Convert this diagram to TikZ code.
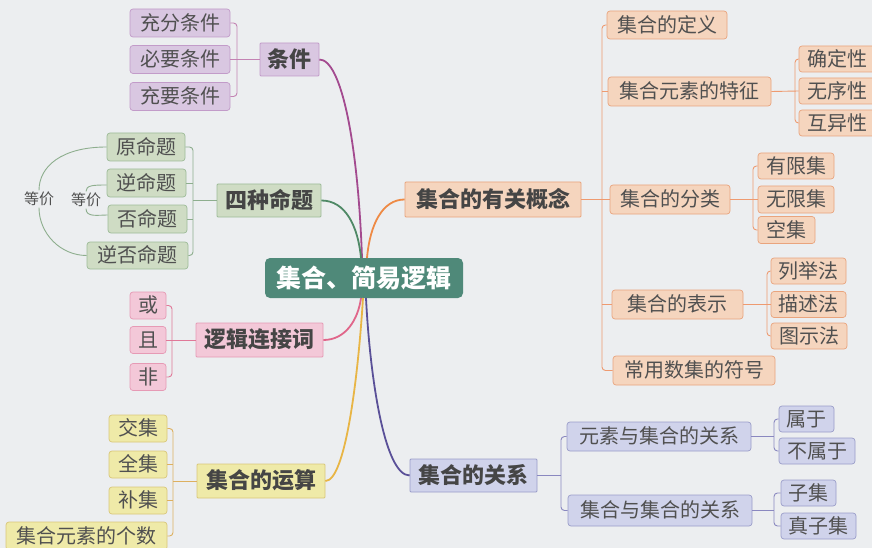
\documentclass[tikz,border=0pt]{standalone}
\usepackage{fontspec}
\setmainfont{Noto Sans CJK SC}
\definecolor{bgc}{HTML}{ECEEF0}
\definecolor{txtc}{HTML}{505050}
\definecolor{toptxt}{HTML}{454545}
\definecolor{Pfill}{HTML}{D9C7E1}\definecolor{Pdraw}{HTML}{C29BC9}\definecolor{Pline}{HTML}{C383B3}\definecolor{Pmain}{HTML}{A34A8F}
\definecolor{Gfill}{HTML}{CFDCC4}\definecolor{Gdraw}{HTML}{9DBB98}\definecolor{Gline}{HTML}{8EAE8E}\definecolor{Gmain}{HTML}{4F8966}
\definecolor{Kfill}{HTML}{F3C8D8}\definecolor{Kdraw}{HTML}{E69AB5}\definecolor{Kline}{HTML}{E07898}\definecolor{Kmain}{HTML}{E0668A}
\definecolor{Yfill}{HTML}{EFEAA8}\definecolor{Ydraw}{HTML}{D9C77A}\definecolor{Yline}{HTML}{DDB060}\definecolor{Ymain}{HTML}{E8B545}
\definecolor{Ofill}{HTML}{F5D5BE}\definecolor{Odraw}{HTML}{E9A47D}\definecolor{Oline}{HTML}{EE9A70}\definecolor{Omain}{HTML}{EE8A45}
\definecolor{Bfill}{HTML}{D0D3EB}\definecolor{Bdraw}{HTML}{9A9DC9}\definecolor{Bline}{HTML}{8A88C0}\definecolor{Bmain}{HTML}{5A5098}
\definecolor{rootc}{HTML}{4F8979}
\begin{document}
\begin{tikzpicture}[x=1pt,y=-1pt,
  base/.style={draw, line width=0.7pt, inner sep=0pt, text=txtc},
  l3/.style={base, rounded corners=3pt, font=\fontsize{20}{20}\selectfont, text height=17pt, text depth=2.6pt},
  l1/.style={base, rounded corners=1pt, line width=0.8pt, font=\fontsize{22}{22}\selectfont\bfseries, text=toptxt, text height=18.8pt, text depth=2.9pt},
  wh/.style 2 args={minimum width=#1pt, minimum height=#2pt},
  gP/.style={fill=Pfill, draw=Pdraw}, gG/.style={fill=Gfill, draw=Gdraw},
  gK/.style={fill=Kfill, draw=Kdraw}, gY/.style={fill=Yfill, draw=Ydraw},
  gO/.style={fill=Ofill, draw=Odraw}, gB/.style={fill=Bfill, draw=Bdraw},
  ln/.style={line width=0.9pt, rounded corners=3.5pt},
  trunk/.style={line width=1.8pt},
  eqtxt/.style={inner sep=1pt, text=txtc, font=\fontsize{15}{15}\selectfont, text height=12.8pt, text depth=2pt}
]
\useasboundingbox (0,0) rectangle (872,548);
\fill[bgc] (0,0) rectangle (872,548);

% root
\node[draw=none, fill=rootc, rounded corners=5pt, wh={198}{40}, inner sep=0pt, text=white,
      font=\fontsize{25}{25}\selectfont\bfseries, text height=21.4pt, text depth=3.3pt] (root) at (364,278) {集合、简易逻辑};
\coordinate (rtA) at (362,258); \coordinate (rtB) at (361,258); \coordinate (rtC) at (367,258);
\coordinate (rbA) at (361,298); \coordinate (rbB) at (363,298); \coordinate (rbC) at (366,298);

% ---- 条件
\node[l1, gP, wh={59}{33}] (tj) at (289.5,59.5) {条件};
\node[l3, gP, wh={100}{28}] (c1) at (180,23) {充分条件};
\node[l3, gP, wh={100}{28}] (c2) at (180,59.5) {必要条件};
\node[l3, gP, wh={100}{28}] (c3) at (180,96.5) {充要条件};
\coordinate (bk1) at (237,59.5);
\draw[ln, Pline] (c1.east) -| (bk1) |- (c3.east);
\draw[ln, Pline] (c2.east) -- (tj.west);

% ---- 四种命题
\node[l1, gG, wh={104}{33}] (sz) at (269,200.5) {四种命题};
\node[l3, gG, wh={78}{28}] (yuan) at (146,147) {原命题};
\node[l3, gG, wh={79}{28}] (ni) at (146.5,183) {逆命题};
\node[l3, gG, wh={79}{28}] (fou) at (147.5,219) {否命题};
\node[l3, gG, wh={101}{27}] (nf) at (137.5,255.5) {逆否命题};
\coordinate (bk2) at (193,200.5);
\draw[ln, Gline] (yuan.east) -| (bk2) |- (nf.east);
\draw[ln, Gline] (ni.east) -- (ni.east -| bk2);
\draw[ln, Gline] (fou.east) -- (fou.east -| bk2);
\draw[ln, Gline] (bk2) -- (sz.west);
% equivalence arcs
\node[eqtxt] (eqo) at (39,199) {等价};
\node[eqtxt] (eqi) at (86,200) {等价};
\draw[line width=0.9pt, Gline] (yuan.west) .. controls +(-45,0) and +(0,-24) .. (eqo.north);
\draw[line width=0.9pt, Gline] (eqo.south) .. controls +(0,26) and +(-26,0) .. (nf.west);
\draw[line width=0.9pt, Gline] ([yshift=-2pt]ni.west) .. controls +(-14,0) and +(0,-6) .. (eqi.north);
\draw[line width=0.9pt, Gline] (eqi.south) .. controls +(0,9) and +(-10,0) .. ([yshift=4pt]fou.west);

% ---- 逻辑连接词
\node[l1, gK, wh={127}{34}] (lj) at (259.5,340) {逻辑连接词};
\node[l3, gK, wh={36}{27}] (huo) at (148,305.5) {或};
\node[l3, gK, wh={36}{27}] (qie) at (148,340) {且};
\node[l3, gK, wh={36}{27}] (fei) at (148,377) {非};
\coordinate (bk3) at (172,340);
\draw[ln, Kline] (huo.east) -| (bk3) |- (fei.east);
\draw[ln, Kline] (qie.east) -- (lj.west);

% ---- 集合的运算
\node[l1, gY, wh={128}{34}] (ys) at (261,481) {集合的运算};
\node[l3, gY, wh={58}{27}] (jiao) at (138,428.5) {交集};
\node[l3, gY, wh={58}{27}] (quan) at (138,464.5) {全集};
\node[l3, gY, wh={58}{27}] (bu) at (138,500.5) {补集};
\node[l3, gY, wh={161}{28}] (gs) at (86.5,536) {集合元素的个数};
\coordinate (bk4) at (173,481);
\draw[ln, Yline] (jiao.east) -| (bk4) |- (gs.east);
\draw[ln, Yline] (quan.east) -- (quan.east -| bk4);
\draw[ln, Yline] (bu.east) -- (bu.east -| bk4);
\draw[ln, Yline] (bk4) -- (ys.west);

% ---- 集合的有关概念
\node[l1, gO, wh={176}{35}] (gn) at (493,199.5) {集合的有关概念};
\node[l3, gO, wh={120}{28}] (dy) at (667,25) {集合的定义};
\node[l3, gO, wh={163}{29}] (tz) at (689.5,91.5) {集合元素的特征};
\node[l3, gO, wh={120}{29}] (fl) at (670,199.5) {集合的分类};
\node[l3, gO, wh={131}{29}] (bs) at (677.5,304.5) {集合的表示};
\node[l3, gO, wh={162}{29}] (fh) at (694,370.5) {常用数集的符号};
\coordinate (bkO) at (602,199.5);
\draw[ln, Oline] (dy.west) -| (bkO) |- (fh.west);
\draw[ln, Oline] (tz.west) -- (tz.west -| bkO);
\draw[ln, Oline] (bs.west) -- (bs.west -| bkO);
\draw[ln, Oline] (gn.east) -- (fl.west);
% 特征
\node[l3, gO, wh={76}{26}] (qd) at (837,59) {确定性};
\node[l3, gO, wh={76}{26}] (wx) at (837,91) {无序性};
\node[l3, gO, wh={76}{26}] (hy) at (837,123) {互异性};
\coordinate (bkT) at (795,91);
\draw[ln, Oline] (qd.west) -| (bkT) |- (hy.west);
\draw[ln, Oline] (tz.east) -- (wx.west);
% 分类
\node[l3, gO, wh={76}{26}] (yx) at (796,166) {有限集};
\node[l3, gO, wh={76}{27}] (wxj) at (796,199.5) {无限集};
\node[l3, gO, wh={57}{27}] (kj) at (786.5,230) {空集};
\coordinate (bkF) at (753,199.5);
\draw[ln, Oline] (yx.west) -| (bkF) |- (kj.west);
\draw[ln, Oline] (fl.east) -- (wxj.west);
% 表示
\node[l3, gO, wh={75}{26}] (lju) at (808.5,271) {列举法};
\node[l3, gO, wh={75}{26}] (ms) at (808.5,304.5) {描述法};
\node[l3, gO, wh={76}{26}] (ts) at (809,336) {图示法};
\coordinate (bkS) at (767,304.5);
\draw[ln, Oline] (lju.west) -| (bkS) |- (ts.west);
\draw[ln, Oline] (bs.east) -- (ms.west);

% ---- 集合的关系
\node[l1, gB, wh={127}{33}] (gx) at (473.5,475.5) {集合的关系};
\node[l3, gB, wh={184}{29}] (yj) at (659,436.5) {元素与集合的关系};
\node[l3, gB, wh={184}{31}] (jj) at (660,510.5) {集合与集合的关系};
\coordinate (bkR) at (561,475.5);
\draw[ln, Bline] (yj.west) -| (bkR) |- (jj.west);
\draw[ln, Bline] (gx.east) -- (bkR);
\node[l3, gB, wh={55}{26}] (sy) at (806.5,419) {属于};
\node[l3, gB, wh={76}{26}] (bsy) at (817,451) {不属于};
\coordinate (bkR1) at (774,436.5);
\draw[ln, Bline] (sy.west) -| (bkR1) |- (bsy.west);
\draw[ln, Bline] (yj.east) -- (bkR1);
\node[l3, gB, wh={55}{26}] (zj) at (808.5,493) {子集};
\node[l3, gB, wh={75}{26}] (zzj) at (818.5,526) {真子集};
\coordinate (bkR2) at (774,510.5);
\draw[ln, Bline] (zj.west) -| (bkR2) |- (zzj.west);
\draw[ln, Bline] (jj.east) -- (bkR2);

% ---- trunks
\draw[trunk, Pmain] (tj.east) .. controls +(22,0) and +(-4,-115) .. (rtA);
\draw[trunk, Gmain] (sz.east) .. controls +(24,0) and +(-3,-32) .. (rtB);
\draw[trunk, Omain] (gn.west) .. controls +(-22,0) and +(3,-34) .. (rtC);
\draw[trunk, Kmain] (lj.east) .. controls +(22,0) and +(-3,22) .. (rbA);
\draw[trunk, Ymain] (ys.east) .. controls +(20,0) and +(-5,80) .. (rbB);
\draw[trunk, Bmain] (gx.west) .. controls +(-25,0) and +(4,80) .. (rbC);
\end{tikzpicture}
\end{document}
